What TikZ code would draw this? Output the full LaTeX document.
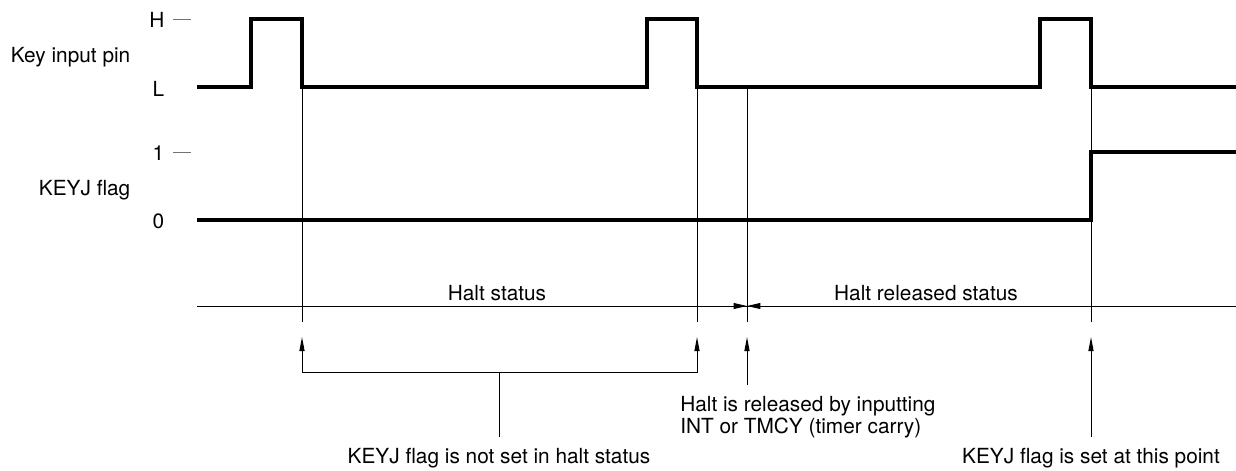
\documentclass[tikz,border=0pt]{standalone}
\usepackage{fontspec}
\setmainfont{TeX Gyre Heros}
\usetikzlibrary{positioning, calc, arrows.meta}

\begin{document}
\begin{tikzpicture}[x=0.025cm, y=-0.025cm,
        every node/.style={font=\fontsize{14.8}{12.8}\selectfont, inner sep=1pt},
        wave/.style={line width=2.2pt, line join=miter},
        guide/.style={line width=0.7pt},
        tickmark/.style={line width=0.7pt, black!55},
        uparrow/.style={guide, -{Triangle[length=10pt, width=3.6pt]}},
        sidearrow/.style={guide, -{Triangle[length=9.5pt, width=4.2pt]}},
        note/.style={inner xsep=0pt, inner ysep=8pt}]
  \useasboundingbox (0,0) rectangle (1236,470);
  % signal names and levels
  \node[anchor=east] (pin) at (132,57) {Key input pin};
  \node[anchor=east] (flag) at (132,190) {KEYJ flag};
  \node[anchor=east] (lvlH) at (166,20) {H};
  \node[anchor=east] (lvlL) at (166,89) {L};
  \node[anchor=east] (lvl1) at (166,153) {1};
  \node[anchor=east] (lvl0) at (166,221) {0};
  \draw[tickmark] (173,19) -- (191,19);
  \draw[tickmark] (173,152) -- (191,152);
  % waveforms
  \draw[wave] (197,87) -- (251,87) |- (302,19) |- (647,87) |- (697,19)
    |- (1040,87) |- (1091,19) |- (1236,87);
  \draw[wave] (197,220) -- (1091,220) |- (1236,152);
  % time markers
  \foreach \name/\x in {fallA/302, fallB/697, release/747, setpt/1091}{
    \coordinate (\name) at (\x,87);
    \coordinate (\name-end) at (\x,322);
    \coordinate (\name-tip) at (\x,337);
    \draw[guide] (\name) -- (\name-end);
  }
  % time axis
  \coordinate (axisL) at (197,306);
  \coordinate (axisR) at (1236,306);
  \draw[guide] (axisL) -- (axisR);
  \node[anchor=base] (halt) at (497,300) {Halt status};
  \node[anchor=base] (released) at (926,300) {Halt released status};
  \coordinate (relAx) at (release |- axisL);
  \draw[sidearrow] (fallB |- axisL) -- (relAx);
  \draw[sidearrow] (setpt |- axisL) -- (relAx);
  % notes
  \coordinate (brace) at (499,372);
  \draw[uparrow] (brace) -| (fallA-tip);
  \draw[uparrow] (brace) -| (fallB-tip);
  \node[note, anchor=north] (notset) at (499,437) {KEYJ flag is not set in halt status};
  \draw[guide] (brace) -- (notset);
  \node[note, anchor=north west, align=left] (howrel) at (680,385)
    {Halt is released by inputting\\INT or TMCY (timer carry)};
  \draw[uparrow] (howrel.north -| release) -- (release-tip);
  \node[note, anchor=north] (isset) at (1091,437) {KEYJ flag is set at this point};
  \draw[uparrow] (isset) -- (setpt-tip);
\end{tikzpicture}
\end{document}
